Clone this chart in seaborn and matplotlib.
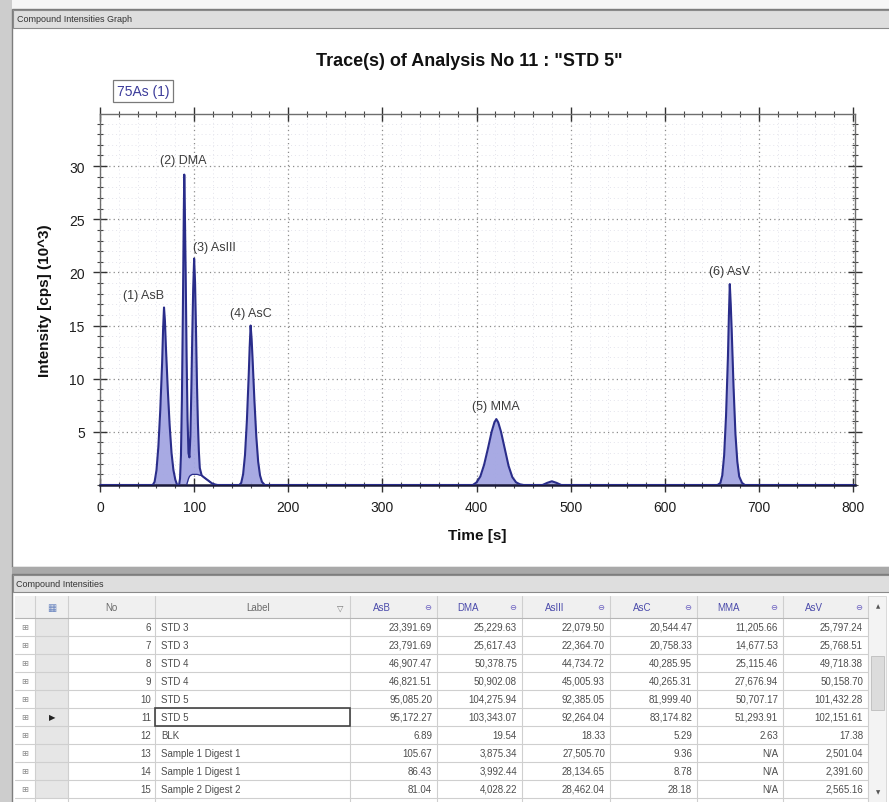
import matplotlib
matplotlib.use("Agg")
import matplotlib.pyplot as plt
from matplotlib.patches import Rectangle
from matplotlib.ticker import MultipleLocator, FixedLocator
import seaborn as sns
import pandas as pd

# ---------------- chromatogram trace (time in s, intensity in 10^3 cps) ----------------
trace_time = [
    0, 56, 58, 60, 62, 64, 66, 67, 68, 69, 70, 72, 74, 76, 78, 80, 82,
    84, 85, 86, 87, 88, 89, 89.5, 90, 91, 92, 93, 94, 95, 96, 97, 98, 99, 100,
    101, 102, 103, 104, 105, 106, 108, 110, 113, 116, 119, 122, 125,
    148, 150, 152, 154, 156, 158, 159, 160, 161, 162, 164, 166, 168, 170, 172, 175,
    396, 400, 404, 408, 412, 416, 419, 421, 423, 426, 430, 434, 438, 442, 446, 450,
    470, 475, 480, 485, 490,
    656, 659, 661, 663, 665, 667, 668, 669, 670, 671, 673, 675, 677, 679, 682, 685,
    802,
]
trace_cps = [
    0, 0, 0.3, 1.4, 3.6, 7.0, 11.5, 14.6, 16.7, 15.4, 13.0, 9.0, 5.6, 3.0, 1.4, 0.5, 0,
    0, 0.6, 2.8, 8.0, 16.0, 25.5, 29.2, 26.8, 20.0, 12.0, 6.2, 3.0, 2.6, 4.6, 8.8, 14.0, 18.5, 21.3,
    19.0, 14.5, 9.5, 5.8, 3.2, 1.6, 0.9, 0.75, 0.55, 0.35, 0.15, 0.05, 0,
    0, 0.2, 1.0, 2.8, 6.0, 10.4, 13.0, 15.0, 13.8, 12.0, 8.0, 4.6, 2.2, 0.9, 0.3, 0,
    0, 0.25, 0.8, 1.9, 3.4, 5.0, 5.9, 6.2, 5.9, 5.0, 3.4, 1.8, 0.74, 0.25, 0.07, 0,
    0, 0.2, 0.35, 0.2, 0,
    0, 0.2, 0.9, 2.8, 6.5, 12.0, 15.8, 18.9, 17.0, 14.6, 9.2, 4.8, 2.2, 0.8, 0.2, 0,
    0,
]
# integration baseline under the DMA / AsIII pair (tailing hump)
hump_cps = [0, 0, 0, 0, 0, 0, 0, 0, 0, 0, 0.3, 0.6, 0.8, 0.9, 0.95, 1.0, 1.0, 1.0,
            1.0, 1.0, 1.0, 0.98, 0.95, 0.92, 0.9, 0.75, 0.55, 0.35, 0.15, 0.05, 0]
integration_base = [0] * 17 + hump_cps + [0] * 16 + [0] * 16 + [0] * 5 + [0] * 16 + [0]

peak_names = ["(1) AsB", "(2) DMA", "(3) AsIII", "(4) AsC", "(5) MMA", "(6) AsV"]
peak_rt = [68, 89.5, 100, 160, 421, 669]
peak_height = [16.7, 29.2, 21.3, 15.0, 6.2, 18.9]

# ---------------- compound intensities table ----------------
row_no = [6, 7, 8, 9, 10, 11, 12, 13, 14, 15]
row_label = ["STD 3", "STD 3", "STD 4", "STD 4", "STD 5", "STD 5", "BLK",
             "Sample 1 Digest 1", "Sample 1 Digest 1", "Sample 2 Digest 2"]
compounds = ["AsB", "DMA", "AsIII", "AsC", "MMA", "AsV"]
asb = [23391.69, 23791.69, 46907.47, 46821.51, 95085.20, 95172.27, 6.89, 105.67, 86.43, 81.04]
dma = [25229.63, 25617.43, 50378.75, 50902.08, 104275.94, 103343.07, 19.54, 3875.34, 3992.44, 4028.22]
as3 = [22079.50, 22364.70, 44734.72, 45005.93, 92385.05, 92264.04, 18.33, 27505.70, 28134.65, 28462.04]
asc = [20544.47, 20758.33, 40285.95, 40265.31, 81999.40, 83174.82, 5.29, 9.36, 8.78, 28.18]
mma = [11205.66, 14677.53, 25115.46, 27676.94, 50707.17, 51293.91, 2.63, None, None, None]
as5 = [25797.24, 25768.51, 49718.38, 50158.70, 101432.28, 102151.61, 17.38, 2501.04, 2391.60, 2565.16]
selected_no = 11

sns.set_theme(style="white")
plt.rcParams["font.family"] = ["Liberation Sans", "DejaVu Sans"]

W, H = 889, 803
fig = plt.figure(figsize=(W / 100, H / 100), dpi=100, facecolor="#e4e4e4")

# ---------- window chrome, drawn in pixel coordinates ----------
bg = fig.add_axes([0, 0, 1, 1], zorder=-5)
bg.set_xlim(0, W)
bg.set_ylim(H, 0)
bg.axis("off")

def rect(x0, y0, x1, y1, fc, ec="none", lw=0.8, z=1):
    bg.add_patch(Rectangle((x0, y0), x1 - x0, y1 - y0, facecolor=fc,
                           edgecolor=ec, linewidth=lw, zorder=z))

rect(0, 0, W, 10, "#f6f6f6")
rect(0, 0, 12, H, "#cdcdcd")
# graph panel
rect(12, 10, W + 2, 568, "white", "#7d7d7d", 1.0)
rect(13, 11, W + 2, 29, "#dedede", "#8a8a8a", 0.8)
bg.text(17, 20, "Compound Intensities Graph", fontsize=6.5, color="#333333", va="center")
rect(12, 568, W, 575, "#a9a9a9")
# table panel
rect(12, 575, W + 2, H + 2, "white", "#7d7d7d", 1.0)
rect(13, 576, W + 2, 593, "#dedede", "#8a8a8a", 0.8)
bg.text(16, 585, "Compound Intensities", fontsize=6.5, color="#333333", va="center")

col_edges = [15, 35, 68, 155, 350, 437, 522, 610, 697, 783, 868]
head_top, head_bot, row_h = 597, 619, 18
grid_c = "#cfcfcf"
txt_c = "#4d4d4d"

rect(15, head_top, 868, head_bot, "#f0f0f0")
for xe in col_edges[1:]:
    bg.plot([xe, xe], [head_top, H], color=grid_c, lw=0.8, zorder=2)
bg.plot([15, 868], [head_bot, head_bot], color="#b5b5b5", lw=0.8, zorder=2)
yc_head = (head_top + head_bot) / 2
bg.text(52, yc_head, "\u25a6", fontsize=7, color="#6b86c0", ha="center", va="center",
        family=["DejaVu Sans"])
bg.text(111, yc_head, "No", fontsize=7, color="#6a6a6a", ha="center", va="center")
bg.text(258, yc_head, "Label", fontsize=7, color="#6a6a6a", ha="center", va="center")
bg.text(340, yc_head, "\u25bd", fontsize=6, color="#777777", ha="center", va="center",
        family=["DejaVu Sans"])
for k, name in enumerate(compounds):
    x0, x1 = col_edges[4 + k], col_edges[5 + k]
    bg.text(x0 + 0.37 * (x1 - x0), yc_head, name, fontsize=7, color="#4b4bab",
            ha="center", va="center")
    bg.text(x1 - 9, yc_head, "\u2296", fontsize=6, color="#6a5fc0", ha="center",
            va="center", family=["DejaVu Sans"])

series = [asb, dma, as3, asc, mma, as5]
for i, no in enumerate(row_no):
    y0 = head_bot + i * row_h
    yc = y0 + row_h / 2
    rect(35, y0, 68, y0 + row_h, "#e6e6e6")
    bg.plot([15, 868], [y0 + row_h, y0 + row_h], color=grid_c, lw=0.8, zorder=2)
    bg.text(25, yc, "\u229e", fontsize=6, color="#8a8a8a", ha="center", va="center",
            family=["DejaVu Sans"])
    bg.text(151, yc, str(no), fontsize=7, color=txt_c, ha="right", va="center")
    bg.text(161, yc, row_label[i], fontsize=7, color=txt_c, ha="left", va="center")
    for k, vals in enumerate(series):
        v = vals[i]
        s = "N/A" if v is None else f"{v:,.2f}"
        bg.text(col_edges[5 + k] - 5, yc, s, fontsize=7, color=txt_c,
                ha="right", va="center")
    if no == selected_no:
        bg.text(52, yc, "\u25b6", fontsize=6, color="#222222", ha="center", va="center",
                family=["DejaVu Sans"])
        rect(155, y0, 350, y0 + row_h, "none", "#444444", 1.2, z=3)

# scrollbar
rect(868, head_top, 886, H, "#f3f3f3", "#d5d5d5", 0.6)
rect(871, 657, 884, 711, "#dcdcdc", "#bdbdbd", 0.6)
bg.text(878, 607, "\u25b2", fontsize=4, color="#555555", ha="center", va="center",
        family=["DejaVu Sans"])
bg.text(878, 793, "\u25bc", fontsize=4, color="#555555", ha="center", va="center",
        family=["DejaVu Sans"])

# ---------- chromatogram ----------
ax = fig.add_axes([100 / W, 1 - 486 / H, 755 / W, 371 / H])
ax.set_facecolor("white")
df = pd.DataFrame({"time": trace_time, "cps": trace_cps, "base": integration_base})

line_c = "#2a2d8a"
fill_c = "#a3a6e2"
ax.fill_between(df["time"], df["base"], df["cps"], color=fill_c, alpha=0.95, lw=0, zorder=2)
sns.lineplot(data=df, x="time", y="cps", ax=ax, color=line_c, lw=1.5, zorder=3,
             sort=False, estimator=None)
hump = df[(df["time"] >= 92) & (df["time"] <= 125)]
ax.plot(hump["time"], hump["base"], color=line_c, lw=0.9, zorder=3)

ax.set_xlim(0, 802)
ax.set_ylim(0, 34.9)
ax.xaxis.set_major_locator(MultipleLocator(100))
ax.xaxis.set_minor_locator(MultipleLocator(20))
ax.yaxis.set_major_locator(FixedLocator([5, 10, 15, 20, 25, 30]))
ax.yaxis.set_minor_locator(MultipleLocator(1))
ax.grid(which="minor", color="#e4e4ec", linestyle=(0, (1, 3)), linewidth=0.7)
ax.grid(which="major", color="#8c8c8c", linestyle=(0, (1, 2.5)), linewidth=0.9)
ax.set_axisbelow(True)
ax.tick_params(which="major", direction="inout", length=10, width=1.0, color="#333333",
               top=True, right=True, bottom=True, left=True, labelsize=10,
               labelcolor="#1e1e1e", pad=6)
ax.tick_params(which="minor", direction="inout", length=5, width=0.8, color="#444444",
               top=True, right=True, bottom=True, left=True)
for side in ["left", "top", "right"]:
    ax.spines[side].set_color("#6e6e6e")
    ax.spines[side].set_linewidth(1.0)
ax.spines["bottom"].set_color("#1a1a3a")
ax.spines["bottom"].set_linewidth(1.8)

ax.set_xlabel("Time [s]", fontsize=11, fontweight="bold", color="#111111", labelpad=10)
ax.set_ylabel("Intensity [cps] (10^3)", fontsize=11, fontweight="bold", color="#111111",
              labelpad=12)

label_offsets = [(-20, 12), (-1, 15), (20, 12), (0, 13), (0, 13), (0, 13)]
for name, rt, h, off in zip(peak_names, peak_rt, peak_height, label_offsets):
    ax.annotate(name, xy=(rt, h), xytext=off, textcoords="offset pixels",
                ha="center", va="center", fontsize=9, color="#3c3c3c", zorder=4)

fig.text(469 / W, 1 - 62 / H, 'Trace(s) of Analysis No 11 : "STD 5"', fontsize=13,
         fontweight="bold", color="#111111", ha="center", va="center")
fig.text(143 / W, 1 - 92 / H, "75As (1)", fontsize=10, color="#3b3b9a",
         ha="center", va="center",
         bbox=dict(boxstyle="square,pad=0.3", facecolor="white", edgecolor="#7a7a7a", lw=0.9))

fig.savefig("out.png", dpi=100, facecolor=fig.get_facecolor())
